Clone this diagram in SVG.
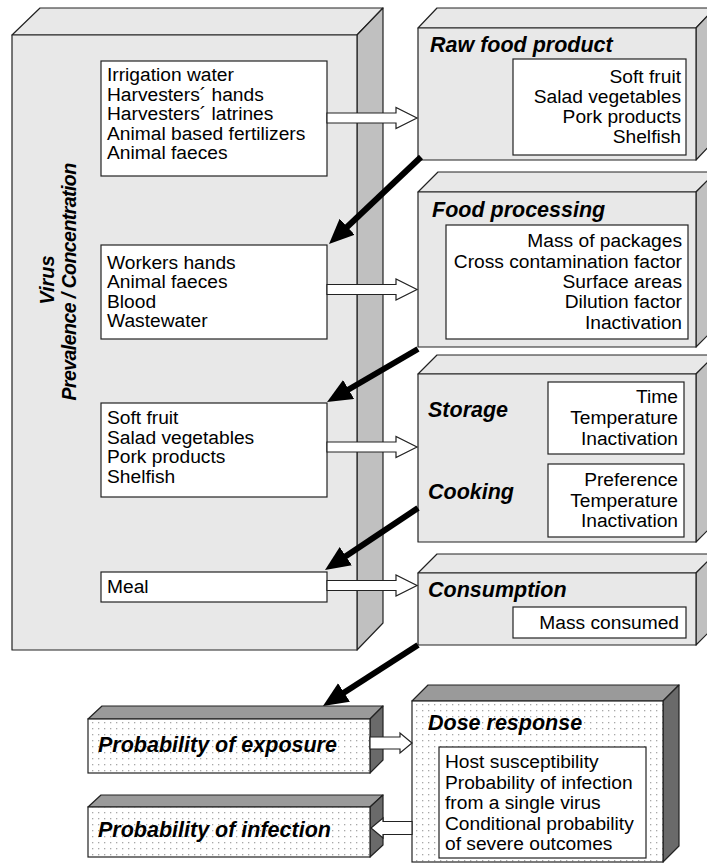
<svg xmlns="http://www.w3.org/2000/svg" width="707" height="867" viewBox="0 0 707 867">
<defs>
<style>
.face{fill:#e8e8e8;stroke:#222;stroke-width:1.2;stroke-linejoin:round}
.side{fill:#c0c0c0;stroke:#222;stroke-width:1.2;stroke-linejoin:round}
.dtop{fill:#9a9a9a;stroke:#222;stroke-width:1.2;stroke-linejoin:round}
.dside{fill:#6a6a6a;stroke:#222;stroke-width:1.2;stroke-linejoin:round}
.dfront{fill:url(#dots);stroke:#222;stroke-width:1.2}
.inner{fill:#fff;stroke:#222;stroke-width:1.2}
.t{font-family:"Liberation Sans",Arial,sans-serif;font-size:19.2px;fill:#000}
.r{text-anchor:end}
.h{font-family:"Liberation Sans",Arial,sans-serif;font-size:21.5px;font-weight:bold;font-style:italic;fill:#000}
.v1{font-size:20px}
.v2{font-size:19.6px;letter-spacing:-0.6px}
.hollow{fill:#fff;stroke:#222;stroke-width:1.2;stroke-linejoin:miter}
.thick{stroke:#000;stroke-width:6;fill:none;marker-end:url(#head)}
</style>
<pattern id="dots" width="6" height="6" patternUnits="userSpaceOnUse">
<rect width="6" height="6" fill="#fff"/>
<rect x="2" y="2" width="1.3" height="1.3" fill="#a8a8a8"/>
</pattern>
<marker id="head" markerUnits="userSpaceOnUse" markerWidth="26" markerHeight="24" refX="10" refY="11" orient="auto" viewBox="0 0 26 24">
<path d="M0,0 L25,11 L0,22 z" fill="#000"/>
</marker>
</defs>

<g id="virus-box">
<polygon class="face" points="12,35 40,8 383,8 357,35"/>
<polygon class="side" points="357,35 383,8 383,623 357,650"/>
<rect class="face" x="12" y="35" width="345" height="615"/>
<text class="h v1" text-anchor="middle" transform="translate(54,280) rotate(-90)">Virus</text>
<text class="h v2" text-anchor="middle" transform="translate(76,282) rotate(-90)">Prevalence / Concentration</text>
</g>

<g id="sources-raw">
<rect class="inner" x="101" y="61" width="226" height="115"/>
<text class="t" x="107" y="81">Irrigation water</text>
<text class="t" x="107" y="100.5">Harvesters´ hands</text>
<text class="t" x="107" y="120">Harvesters´ latrines</text>
<text class="t" x="107" y="139.5">Animal based fertilizers</text>
<text class="t" x="107" y="159">Animal faeces</text>
</g>

<g id="sources-processing">
<rect class="inner" x="101" y="245" width="226" height="94"/>
<text class="t" x="107" y="268.5">Workers hands</text>
<text class="t" x="107" y="288">Animal faeces</text>
<text class="t" x="107" y="307.5">Blood</text>
<text class="t" x="107" y="327">Wastewater</text>
</g>

<g id="products">
<rect class="inner" x="101" y="403" width="226" height="94"/>
<text class="t" x="107" y="424">Soft fruit</text>
<text class="t" x="107" y="443.5">Salad vegetables</text>
<text class="t" x="107" y="463">Pork products</text>
<text class="t" x="107" y="482.5">Shelfish</text>
</g>

<g id="meal">
<rect class="inner" x="101" y="572" width="226" height="30"/>
<text class="t" x="107" y="593">Meal</text>
</g>

<g id="raw-food-product">
<polygon class="face" points="418,28 437,8 715,8 696,28"/>
<polygon class="side" points="696,28 715,8 715,140 696,160"/>
<rect class="face" x="418" y="28" width="278" height="132"/>
<text class="h" x="430" y="52">Raw food product</text>
<rect class="inner" x="513" y="59" width="173" height="96"/>
<text class="t r" x="681" y="83">Soft fruit</text>
<text class="t r" x="681" y="103">Salad vegetables</text>
<text class="t r" x="681" y="123">Pork products</text>
<text class="t r" x="681" y="143">Shelfish</text>
</g>

<g id="food-processing">
<polygon class="face" points="418,192 438,172 716,172 696,192"/>
<polygon class="side" points="696,192 716,172 716,327 696,347"/>
<rect class="face" x="418" y="192" width="278" height="155"/>
<text class="h" x="432" y="217">Food processing</text>
<rect class="inner" x="446" y="225" width="242" height="114"/>
<text class="t r" x="682" y="247">Mass of packages</text>
<text class="t r" x="682" y="267.5">Cross contamination factor</text>
<text class="t r" x="682" y="288">Surface areas</text>
<text class="t r" x="682" y="308">Dilution factor</text>
<text class="t r" x="682" y="328.5">Inactivation</text>
</g>

<g id="storage-cooking">
<polygon class="face" points="418,374 437,355 715,355 696,374"/>
<polygon class="side" points="696,374 715,355 715,523 696,542"/>
<rect class="face" x="418" y="374" width="278" height="168"/>
<text class="h" x="428" y="417">Storage</text>
<text class="h" x="428" y="499">Cooking</text>
<rect class="inner" x="548" y="382" width="136" height="72"/>
<text class="t r" x="678" y="403">Time</text>
<text class="t r" x="678" y="424">Temperature</text>
<text class="t r" x="678" y="445">Inactivation</text>
<rect class="inner" x="548" y="464" width="136" height="73"/>
<text class="t r" x="678" y="486">Preference</text>
<text class="t r" x="678" y="507">Temperature</text>
<text class="t r" x="678" y="527">Inactivation</text>
</g>

<g id="consumption">
<polygon class="face" points="418,573 437,554 715,554 696,573"/>
<polygon class="side" points="696,573 715,554 715,626 696,645"/>
<rect class="face" x="418" y="573" width="278" height="72"/>
<text class="h" x="428" y="597">Consumption</text>
<rect class="inner" x="513" y="607" width="173" height="31"/>
<text class="t r" x="679" y="629">Mass consumed</text>
</g>

<g id="probability-exposure">
<polygon class="dtop" points="88,719 102,706 383,706 370,719"/>
<polygon class="dside" points="370,719 383,706 383,760 370,773"/>
<rect class="dfront" x="88" y="719" width="282" height="54"/>
<text class="h" x="98" y="752">Probability of exposure</text>
</g>

<g id="probability-infection">
<polygon class="dtop" points="88,807 101,795 383,795 370,807"/>
<polygon class="dside" points="370,807 383,795 383,845 370,857"/>
<rect class="dfront" x="88" y="807" width="282" height="50"/>
<text class="h" x="98" y="837">Probability of infection</text>
</g>

<g id="dose-response">
<polygon class="dtop" points="412,701 428,685 679,685 663,701"/>
<polygon class="dside" points="663,701 679,685 679,846 663,862"/>
<rect class="dfront" x="412" y="701" width="251" height="161"/>
<text class="h" x="428" y="730">Dose response</text>
<rect class="inner" x="439" y="747" width="207" height="111"/>
<text class="t" x="445" y="768">Host susceptibility</text>
<text class="t" x="445" y="788.5">Probability of infection</text>
<text class="t" x="445" y="809">from a single virus</text>
<text class="t" x="445" y="829.5">Conditional probability</text>
<text class="t" x="445" y="850">of severe outcomes</text>
</g>

<g id="connectors">
<polygon class="hollow" points="327,113 396,113 396,107.5 417,118 396,128.5 396,123 327,123"/>
<polygon class="hollow" points="327,284.5 396,284.5 396,279 417,289.5 396,300 396,294.5 327,294.5"/>
<polygon class="hollow" points="327,442 396,442 396,436.5 417,447 396,457.5 396,452 327,452"/>
<polygon class="hollow" points="327,580.5 396,580.5 396,575 417,585.5 396,596 396,590.5 327,590.5"/>
<polygon class="hollow" points="370,737 400,737 400,733 412,743 400,753 400,749 370,749"/>
<polygon class="hollow" points="412,821.5 383,821.5 383,818 371,828 383,838 383,834.5 412,834.5"/>
<line class="thick" x1="421" y1="157" x2="339.9" y2="233.7"/>
<line class="thick" x1="418" y1="349" x2="340" y2="394.5"/>
<line class="thick" x1="418" y1="508" x2="337.5" y2="561.7"/>
<line class="thick" x1="418" y1="645" x2="335.6" y2="697.9"/>
</g>
</svg>
